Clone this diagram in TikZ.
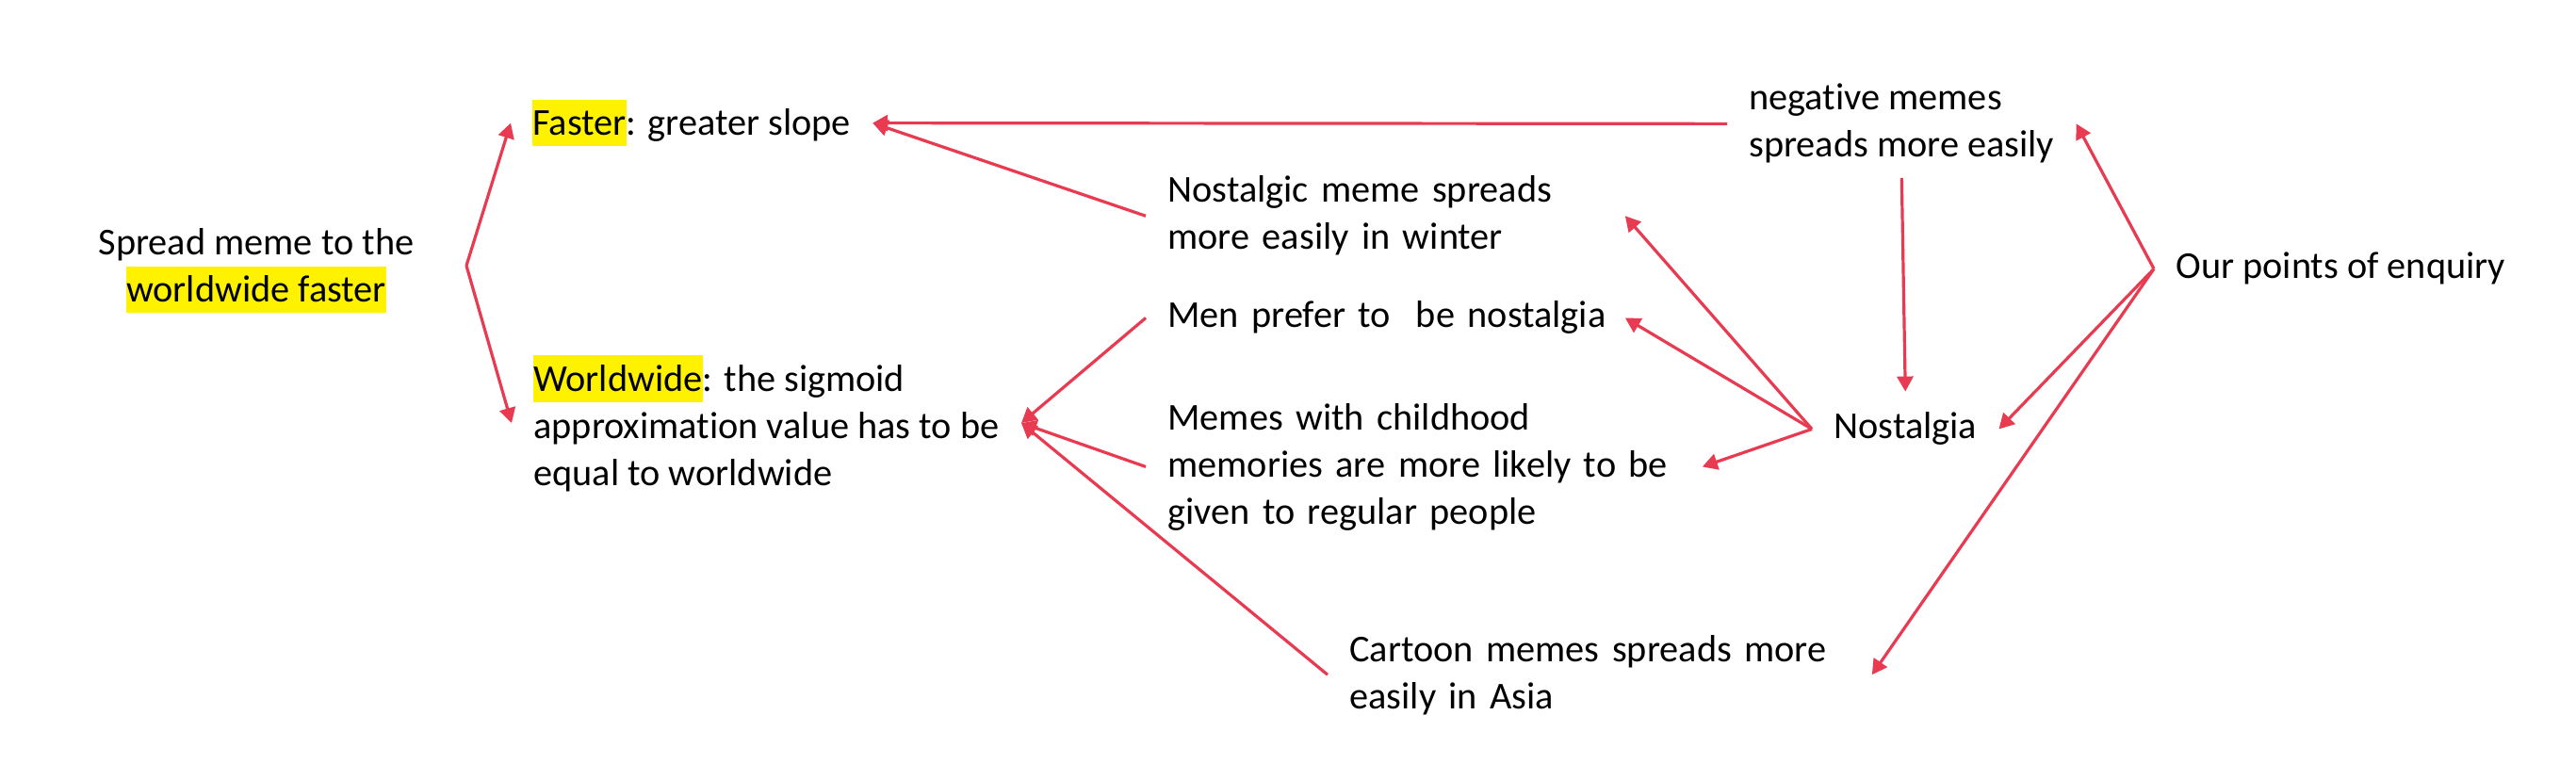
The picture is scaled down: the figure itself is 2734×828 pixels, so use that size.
\documentclass[tikz,border=0pt]{standalone}
\usepackage{xcolor}
\usepackage{fontspec}
\setmainfont{Carlito}[RawFeature={-liga;-clig;-calt;-dlig}]
\usepackage{tikz}
\usetikzlibrary{arrows.meta}
\definecolor{linkred}{RGB}{232,58,80}
\newcommand{\hlite}[1]{{\setlength{\fboxsep}{0pt}\colorbox{yellow}{\rule[-5.75pt]{0pt}{24.9pt}#1}}}

\begin{document}
\begin{tikzpicture}[->,>={Triangle[length=8pt,width=8.5pt]},x=0.5pt,y=-0.5pt]
\tikzstyle{every node} = [font = \fontsize{20.15}{25}\selectfont, inner xsep = 11.5pt, inner ysep = 0pt, anchor = base west, align = left]
\tikzstyle{link} = [draw = linkred, line width = 1.6pt]
	\useasboundingbox (0,0) rectangle (2734,828);
	\node [anchor = base, align = center] (spread) at (272,321) {Spread meme to the\\ \hlite{worldwide faster}};
	\coordinate (split) at (495,282);
	\node (faster) at (542,144) {\hlite{Faster}: greater slope};
	\node (worldwide) at (543,515) {\hlite{Worldwide}: the sigmoid\\ approximation value has to be\\ equal to worldwide};
	\node [text width = 231pt] (nostalgic) at (1216,215) {Nostalgic meme spreads\\ more easily in winter};
	\node [text width = 231pt] (menprefer) at (1216,348) {\mbox{Men prefer to~ be nostalgia}};
	\node [text width = 272pt] (childhood) at (1216,456) {Memes with childhood\\ memories are more likely to be\\ given to regular people};
	\node [text width = 265.5pt] (cartoon) at (1409,702) {Cartoon memes spreads more\\ easily in Asia};
	\node [inner ysep = 7.5pt] (negative) at (1833,167) {negative memes\\ spreads more easily};
	\node [inner ysep = 11pt] (nostalgia) at (1923,466) {Nostalgia};
	\node (enquiry) at (2286,296) {Our points of enquiry};

	\draw [link] (split) -- (faster.west);
	\draw [link] (split) -- (worldwide.west);
	\draw [link] (negative.west) -- (faster.east);
	\draw [link] (nostalgic.west) -- (faster.east);
	\draw [link] (menprefer.west) -- (worldwide.east);
	\draw [link] (childhood.west) -- (worldwide.east);
	\draw [link] (cartoon.west) -- (worldwide.east);
	\draw [link] (nostalgia.west) -- (nostalgic.east);
	\draw [link] (nostalgia.west) -- (menprefer.east);
	\draw [link] (nostalgia.west) -- (childhood.east);
	\draw [link] (negative.south) -- (nostalgia.north);
	\draw [link] (enquiry.west) -- (negative.east);
	\draw [link] (enquiry.west) -- (nostalgia.east);
	\draw [link] (enquiry.west) -- (cartoon.east);
\end{tikzpicture}
\end{document}
